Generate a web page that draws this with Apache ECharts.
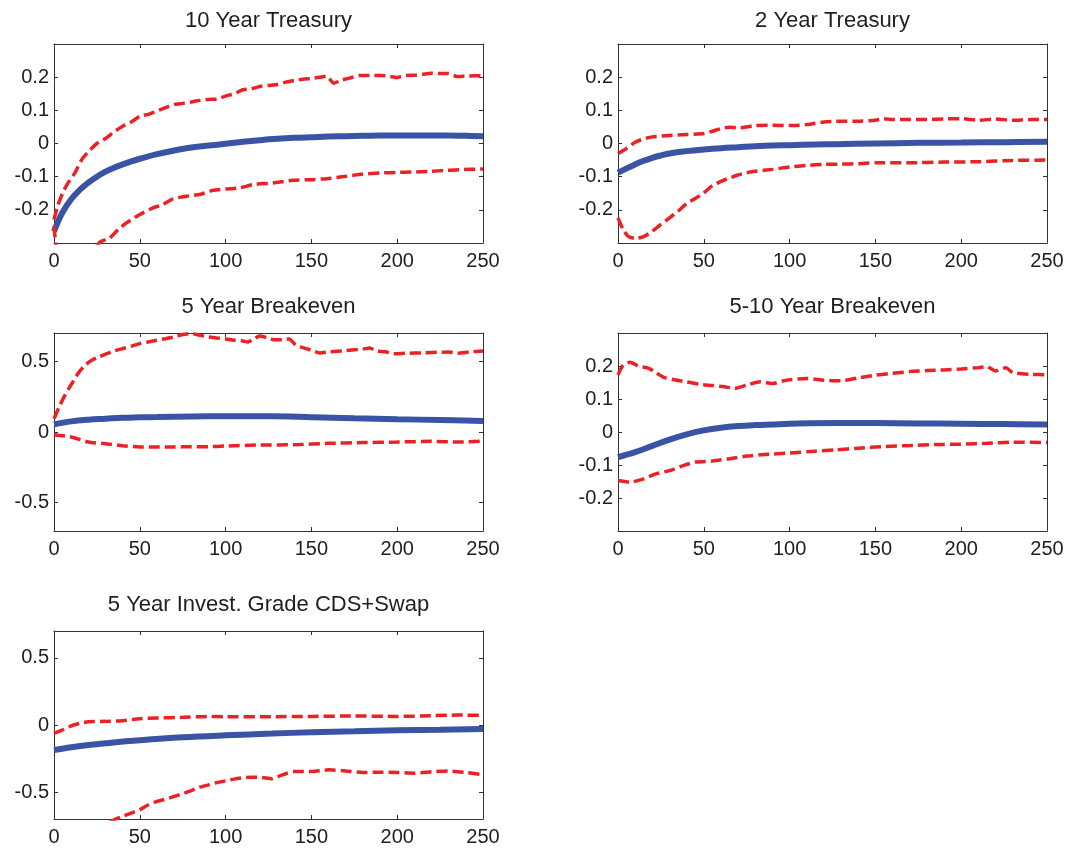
<!DOCTYPE html>
<html>
<head>
<meta charset="utf-8">
<script src="https://cdn.jsdelivr.net/npm/echarts@6/dist/echarts.min.js"></script>
<style>
html,body{margin:0;padding:0;background:#fff;}
#chart{width:1072px;height:851px;}
</style>
</head>
<body>
<div id="chart"></div>
<script>
// ---------- data ----------
const titles = ['10 Year Treasury', '2 Year Treasury', '5 Year Breakeven', '5-10 Year Breakeven', '5 Year Invest. Grade CDS+Swap'];
const xTicks = [0, 50, 100, 150, 200, 250];
const yTicksSmall = [-0.3, -0.2, -0.1, 0, 0.1, 0.2, 0.3];
const yLabelsSmall = [-0.2, -0.1, 0, 0.1, 0.2];
const yTicksLarge = [-0.5, 0, 0.5];

// 10 Year Treasury
const t10Mean = [[0,-0.265],[2,-0.24],[5,-0.207],[10,-0.168],[15,-0.14],[20,-0.118],[25,-0.1],[30,-0.085],[35,-0.073],[40,-0.063],[45,-0.054],[50,-0.046],[60,-0.032],[70,-0.021],[80,-0.012],[90,-0.006],[100,-0.001],[110,0.005],[120,0.01],[130,0.014],[140,0.017],[150,0.019],[160,0.021],[170,0.022],[180,0.023],[190,0.024],[200,0.024],[210,0.024],[220,0.024],[230,0.024],[240,0.023],[250,0.022]];
const t10Upper = [[0,-0.23],[2,-0.19],[5,-0.15],[8,-0.12],[12,-0.09],[16,-0.05],[20,-0.025],[25,0.0],[30,0.015],[35,0.035],[40,0.052],[45,0.065],[50,0.082],[55,0.088],[60,0.098],[65,0.108],[70,0.118],[75,0.121],[80,0.125],[85,0.13],[90,0.133],[95,0.134],[100,0.143],[105,0.15],[110,0.162],[115,0.165],[120,0.172],[125,0.175],[130,0.178],[135,0.185],[140,0.19],[145,0.194],[150,0.196],[155,0.2],[159,0.203],[163,0.182],[167,0.19],[172,0.197],[178,0.205],[185,0.205],[190,0.205],[195,0.203],[200,0.199],[205,0.205],[210,0.206],[215,0.209],[220,0.212],[225,0.211],[230,0.211],[235,0.202],[240,0.203],[245,0.204],[250,0.205]];
const t10Lower = [[0,-0.25],[1,-0.3],[3,-0.36],[8,-0.4],[15,-0.38],[22,-0.33],[26.6,-0.298],[32.4,-0.285],[37.3,-0.26],[42,-0.24],[50,-0.214],[57.7,-0.194],[63.5,-0.184],[69.3,-0.167],[77,-0.159],[84.9,-0.154],[92.6,-0.141],[100,-0.137],[108,-0.134],[116,-0.124],[127.6,-0.119],[139,-0.111],[150,-0.109],[159,-0.106],[170,-0.099],[180,-0.092],[190,-0.089],[200,-0.087],[209,-0.086],[219,-0.084],[229,-0.081],[236,-0.079],[250,-0.077]];

// 2 Year Treasury
const t2Mean = [[0,-0.088],[5,-0.075],[10,-0.063],[15,-0.052],[20,-0.043],[25,-0.036],[30,-0.03],[40,-0.023],[50,-0.018],[60,-0.014],[70,-0.011],[80,-0.008],[90,-0.006],[100,-0.005],[115,-0.003],[127,-0.002],[150,0.0],[175,0.002],[200,0.003],[225,0.004],[250,0.005]];
const t2Upper = [[0,-0.03],[5,-0.015],[10,0.004],[15,0.014],[20,0.02],[30,0.024],[40,0.027],[50,0.03],[55,0.037],[60,0.045],[65,0.049],[70,0.047],[75,0.05],[80,0.054],[90,0.055],[100,0.054],[110,0.057],[120,0.065],[127,0.067],[140,0.067],[150,0.07],[155,0.075],[160,0.072],[170,0.072],[180,0.072],[190,0.074],[200,0.075],[210,0.07],[220,0.074],[230,0.07],[240,0.072],[250,0.072]];
const t2Lower = [[0,-0.224],[3,-0.26],[6,-0.28],[10,-0.286],[15,-0.281],[20,-0.264],[25,-0.244],[30,-0.224],[35,-0.204],[40,-0.181],[45,-0.166],[50,-0.149],[55,-0.127],[60,-0.114],[65,-0.104],[70,-0.095],[75,-0.088],[80,-0.084],[90,-0.078],[100,-0.071],[110,-0.066],[120,-0.063],[130,-0.062],[140,-0.061],[150,-0.058],[170,-0.058],[190,-0.056],[210,-0.055],[230,-0.051],[250,-0.05]];

// 5 Year Breakeven
const be5Mean = [[0,0.054],[10,0.075],[20,0.087],[30,0.094],[40,0.101],[50,0.104],[60,0.106],[80,0.11],[100,0.111],[127,0.111],[150,0.105],[175,0.097],[200,0.09],[225,0.085],[250,0.078]];
const be5Upper = [[0,0.094],[3,0.177],[6,0.252],[10,0.335],[14,0.413],[18,0.472],[22,0.507],[26,0.531],[30,0.55],[35,0.573],[40,0.59],[45,0.606],[50,0.625],[55,0.637],[60,0.649],[65,0.66],[70,0.672],[75,0.689],[80,0.696],[85,0.684],[90,0.672],[95,0.665],[100,0.658],[105,0.649],[110,0.644],[113,0.637],[116,0.656],[120,0.679],[124,0.667],[128,0.653],[133,0.653],[137,0.658],[141,0.613],[145,0.597],[150,0.578],[155,0.559],[160,0.566],[170,0.575],[180,0.587],[184,0.594],[188,0.573],[193,0.568],[198,0.554],[205,0.557],[215,0.559],[225,0.564],[230,0.566],[235,0.557],[242,0.566],[250,0.573]];
const be5Lower = [[0,-0.019],[10,-0.035],[20,-0.071],[30,-0.083],[40,-0.097],[50,-0.106],[60,-0.106],[70,-0.106],[80,-0.104],[90,-0.104],[100,-0.099],[120,-0.092],[140,-0.09],[160,-0.08],[180,-0.075],[200,-0.071],[220,-0.066],[235,-0.071],[250,-0.064]];

// 5-10 Year Breakeven
const be510Mean = [[0,-0.076],[10,-0.061],[20,-0.042],[30,-0.023],[40,-0.007],[50,0.005],[60,0.013],[70,0.018],[80,0.021],[90,0.023],[100,0.025],[127,0.027],[150,0.027],[175,0.026],[200,0.025],[225,0.024],[250,0.023]];
const be510Upper = [[0,0.173],[3,0.203],[7,0.211],[12,0.2],[18,0.193],[22,0.18],[27,0.165],[32,0.159],[40,0.152],[48,0.144],[55,0.141],[62,0.137],[68,0.132],[75,0.142],[83,0.152],[90,0.147],[98,0.157],[110,0.162],[120,0.157],[130,0.155],[140,0.164],[150,0.172],[160,0.178],[170,0.183],[180,0.186],[190,0.188],[200,0.191],[210,0.195],[215,0.198],[220,0.185],[226,0.195],[230,0.18],[240,0.175],[250,0.173]];
const be510Lower = [[0,-0.147],[7,-0.152],[15,-0.142],[22,-0.127],[30,-0.117],[38,-0.102],[45,-0.091],[55,-0.088],[65,-0.081],[75,-0.073],[85,-0.068],[100,-0.064],[115,-0.058],[127,-0.054],[140,-0.049],[155,-0.044],[170,-0.041],[185,-0.038],[200,-0.037],[215,-0.034],[230,-0.031],[250,-0.032]];

// 5 Year Invest. Grade CDS+Swap
const cdsMean = [[0,-0.186],[10,-0.166],[20,-0.149],[30,-0.136],[50,-0.114],[75,-0.092],[100,-0.077],[127,-0.064],[150,-0.054],[175,-0.047],[200,-0.04],[225,-0.035],[250,-0.03]];
const cdsUpper = [[0,-0.062],[5,-0.037],[10,-0.007],[15,0.012],[20,0.025],[30,0.027],[40,0.032],[50,0.047],[60,0.052],[75,0.057],[90,0.064],[100,0.062],[127,0.062],[150,0.064],[175,0.067],[200,0.064],[220,0.069],[235,0.074],[250,0.072]];
const cdsLower = [[0,-0.95],[10,-0.9],[20,-0.82],[30,-0.74],[36,-0.7],[40,-0.68],[45,-0.656],[50,-0.631],[55,-0.594],[60,-0.569],[65,-0.552],[70,-0.532],[75,-0.512],[80,-0.488],[85,-0.463],[90,-0.446],[95,-0.428],[100,-0.416],[105,-0.403],[110,-0.394],[115,-0.389],[120,-0.389],[127,-0.401],[133,-0.371],[140,-0.347],[150,-0.347],[160,-0.334],[170,-0.342],[180,-0.354],[190,-0.351],[200,-0.354],[210,-0.359],[220,-0.349],[230,-0.342],[240,-0.354],[250,-0.371]];

// ---------- build chart ----------
const panelData = [
  {mean: t10Mean, upper: t10Upper, lower: t10Lower, yTicks: yTicksSmall, yLabels: yLabelsSmall},
  {mean: t2Mean, upper: t2Upper, lower: t2Lower, yTicks: yTicksSmall, yLabels: yLabelsSmall},
  {mean: be5Mean, upper: be5Upper, lower: be5Lower, yTicks: yTicksLarge, yLabels: yTicksLarge, yMin: -0.7, yMax: 0.7},
  {mean: be510Mean, upper: be510Upper, lower: be510Lower, yTicks: yTicksSmall, yLabels: yLabelsSmall},
  {mean: cdsMean, upper: cdsUpper, lower: cdsLower, yTicks: yTicksLarge, yLabels: yTicksLarge, yMin: -0.7, yMax: 0.7}
];
const gridBoxes = [
  {left: 54, top: 44, width: 429, height: 199},
  {left: 618, top: 44, width: 429, height: 199},
  {left: 54, top: 333, width: 429, height: 198},
  {left: 618, top: 333, width: 429, height: 198},
  {left: 54, top: 631, width: 429, height: 188}
];
const titleTops = [10, 10, 296, 296, 594];

const FONT = '"Liberation Sans", Arial, Helvetica, sans-serif';
const TXT = '#1e1e1e';
const FRAME = '#333333';
const BLUE = '#3A53A4';
const RED = '#ED2024';

const option = {
  animation: false,
  backgroundColor: '#ffffff',
  title: [], grid: [], xAxis: [], yAxis: [], series: []
};

panelData.forEach((p, i) => {
  const g = gridBoxes[i];
  option.grid.push(Object.assign({containLabel: false}, g));
  option.title.push({
    text: titles[i],
    left: g.left + g.width / 2,
    top: titleTops[i],
    textAlign: 'center',
    padding: 0,
    textStyle: {fontFamily: FONT, fontSize: 22, fontWeight: 'normal', color: TXT}
  });
  const lineStyle = {color: FRAME, width: 1};
  const yMin = p.yMin !== undefined ? p.yMin : yTicksSmall[0];
  const yMax = p.yMax !== undefined ? p.yMax : yTicksSmall[yTicksSmall.length - 1];
  ['bottom', 'top'].forEach((pos, k) => {
    option.xAxis.push({
      type: 'value', gridIndex: i, position: pos,
      min: xTicks[0], max: xTicks[xTicks.length - 1], interval: 50,
      axisLine: {show: true, onZero: false, lineStyle},
      axisTick: {show: true, inside: true, length: 4, lineStyle},
      axisLabel: {show: k === 0, margin: 8, fontFamily: FONT, fontSize: 20, color: TXT,
                  customValues: xTicks},
      splitLine: {show: false}
    });
  });
  ['left', 'right'].forEach((pos, k) => {
    option.yAxis.push({
      type: 'value', gridIndex: i, position: pos,
      min: yMin, max: yMax,
      axisLine: {show: true, onZero: false, lineStyle},
      axisTick: {show: true, inside: true, length: 4, lineStyle, customValues: p.yTicks},
      axisLabel: {show: k === 0, margin: 5, fontFamily: FONT, fontSize: 20, color: TXT,
                  customValues: p.yLabels,
                  formatter: v => String(Math.round(v * 10) / 10)},
      splitLine: {show: false}
    });
  });
  const xi = i * 2, yi = i * 2;
  option.series.push({
    type: 'line', xAxisIndex: xi, yAxisIndex: yi, data: p.mean, showSymbol: false,
    smooth: 0.4, clip: true, z: 2,
    lineStyle: {color: BLUE, width: 6}
  });
  [p.upper, p.lower].forEach(d => {
    option.series.push({
      type: 'line', xAxisIndex: xi, yAxisIndex: yi, data: d, showSymbol: false,
      smooth: 0.2, clip: true, z: 3,
      lineStyle: {color: RED, width: 3.5, type: [11, 5]}
    });
  });
});

const chart = echarts.init(document.getElementById('chart'), null, {renderer: 'canvas', width: 1072, height: 851});
chart.setOption(option);
</script>
</body>
</html>
